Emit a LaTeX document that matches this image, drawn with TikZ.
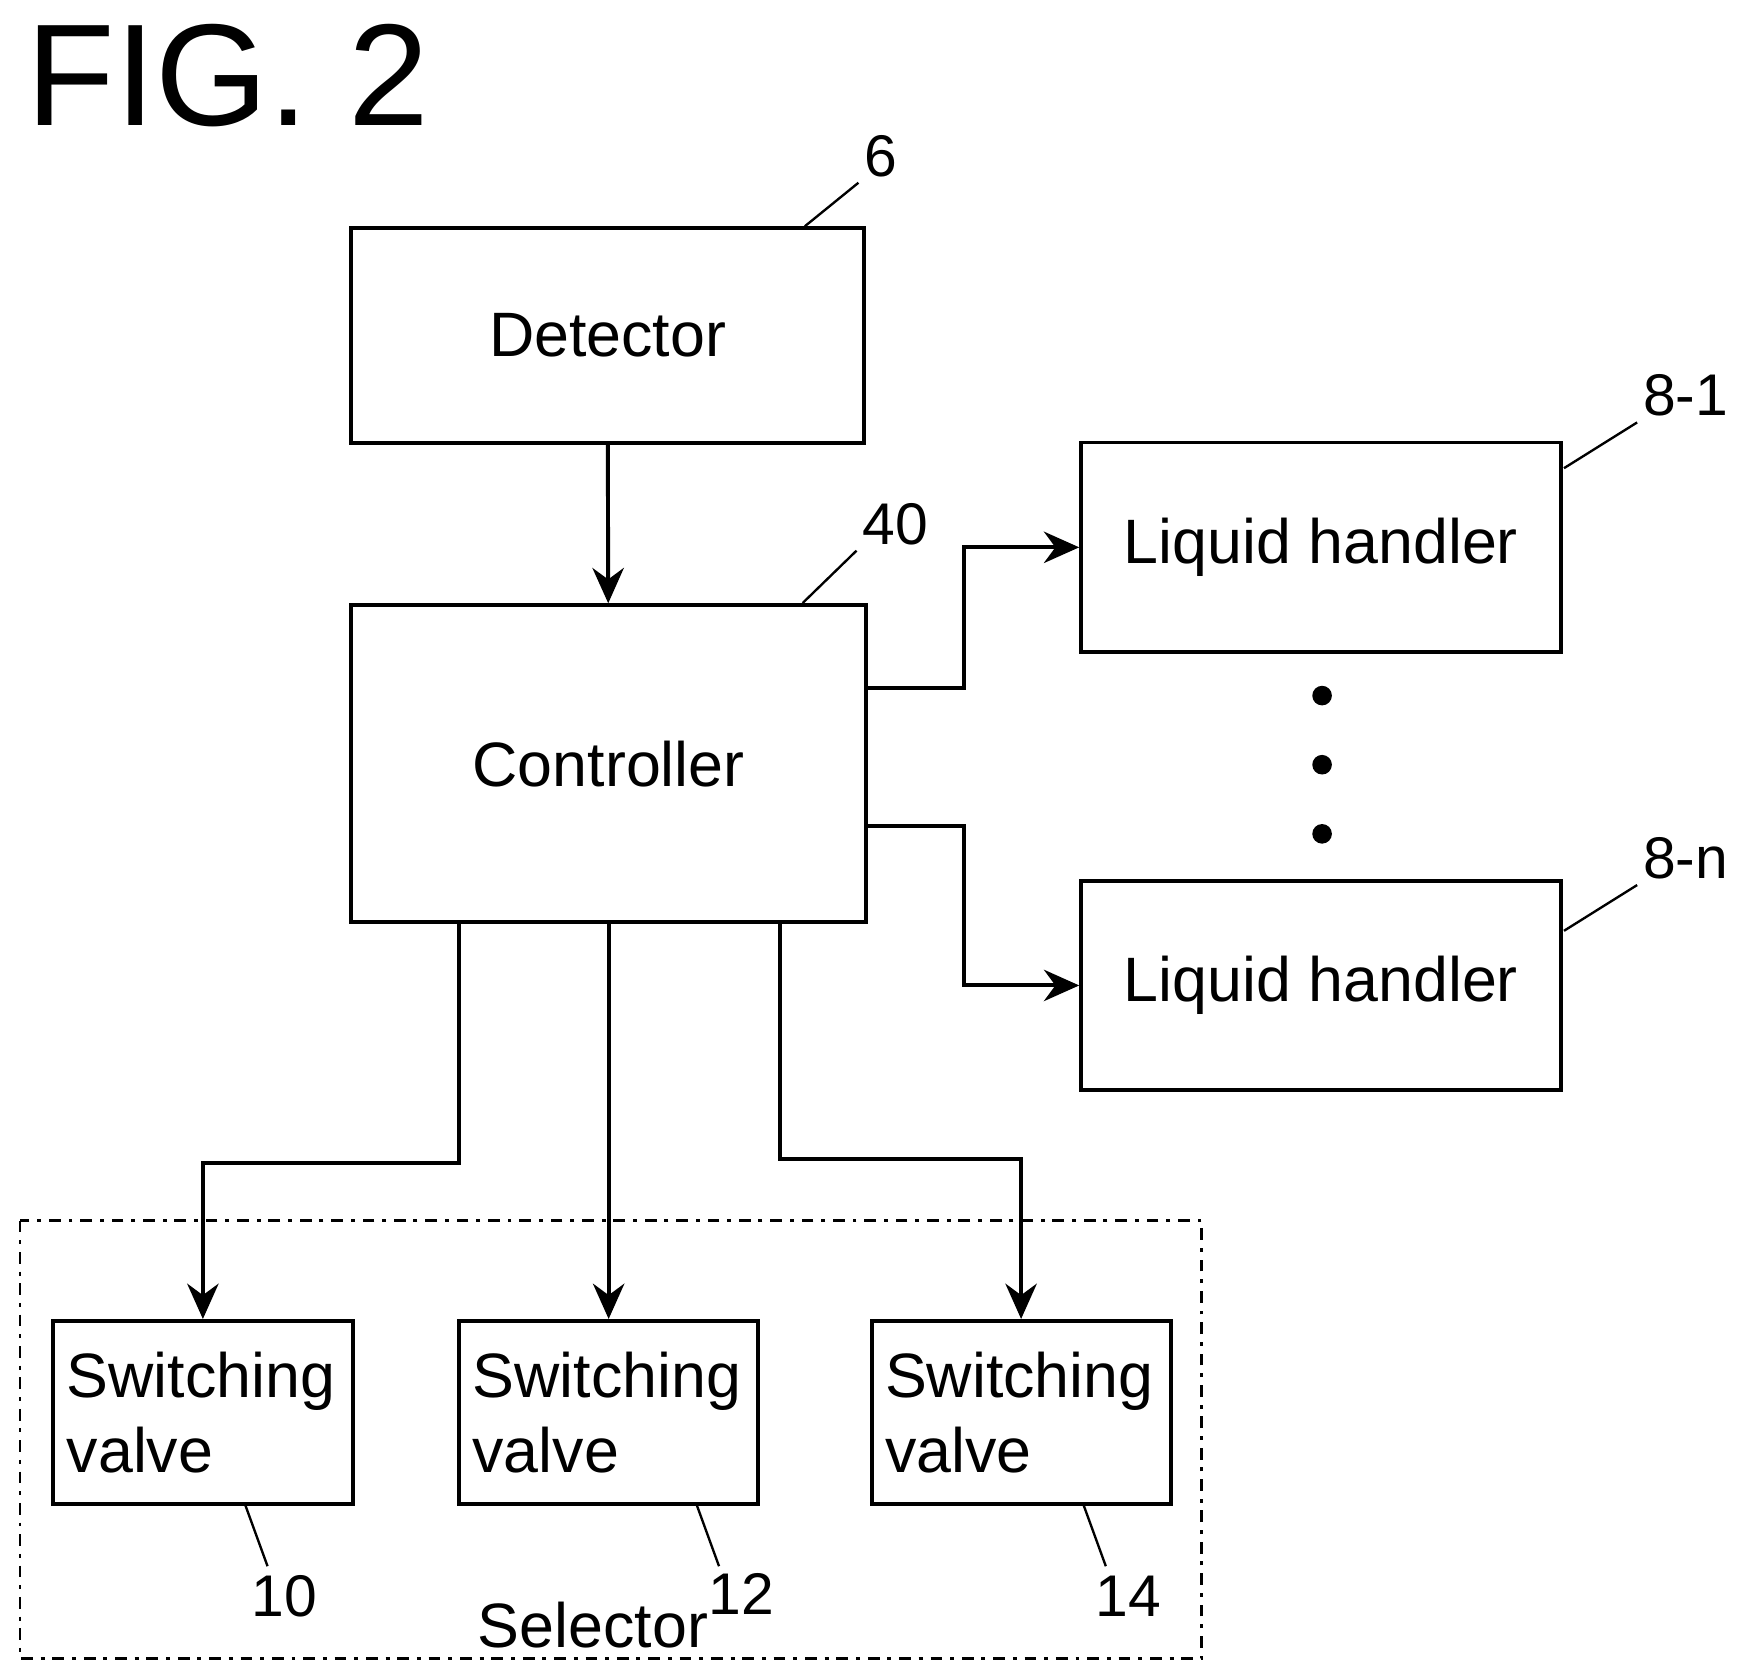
\documentclass[tikz,border=0pt]{standalone}
\usepackage{fontspec}
\setmainfont{Liberation Sans}
\usetikzlibrary{arrows.meta}
\begin{document}
\begin{tikzpicture}
[x=0.01cm,y=-0.01cm,>={Stealth[length=9pt,width=8pt]},line width=1pt,
box/.style={draw,rectangle,inner sep=0pt,font=\fontsize{16}{19}\selectfont},
num/.style={font=\fontsize{15}{18}\selectfont,inner sep=1pt},
dot/.style={circle,fill=black,inner sep=0pt,minimum size=5pt},]

\useasboundingbox (0,0) rectangle (1560,1500);

%Title
\node (title) at (22,68)[anchor=west,inner sep=0pt] {\fontsize{37}{42}\selectfont FIG. 2};

%Boxes
\node (det) at (545,301)[box,minimum width=4.6cm,minimum height=1.92cm] {Detector};
\node (ctl) at (546,685)[box,minimum width=4.62cm,minimum height=2.84cm] {Controller};
\node (lh1) at (1185,491)[box,minimum width=4.3cm,minimum height=1.88cm] {Liquid handler};
\node (lhn) at (1185,884)[box,minimum width=4.3cm,minimum height=1.88cm] {Liquid handler};
\node (sv1) at (182,1267)[box,minimum width=2.69cm,minimum height=1.64cm,align=left,text width=2.44cm] {Switching\\valve};
\node (sv2) at (546,1267)[box,minimum width=2.68cm,minimum height=1.64cm,align=left,text width=2.44cm] {Switching\\valve};
\node (sv3) at (916,1267)[box,minimum width=2.68cm,minimum height=1.64cm,align=left,text width=2.44cm] {Switching\\valve};

%Selector frame
\draw[dash dot,line width=0.7pt] (18,1095) rectangle (1078,1488);
\node (sel) at (532,1458)[box,draw=none] {Selector};

%Dots
\node (d1) at (1186,624)[dot] {};
\node (d2) at (1186,686)[dot] {};
\node (d3) at (1186,748)[dot] {};

%Connections
\draw[->] (det) -- (ctl);
\draw[->] (ctl.east |- 0,617) -- (865,617) |- (lh1.west);
\draw[->] (ctl.east |- 0,741) -- (865,741) |- (lhn.west);
\draw[->] (412,827) -- (412,1043) -| (sv1.north);
\draw[->] (ctl.south) -- (sv2.north);
\draw[->] (700,827) -- (700,1040) -| (sv3.north);

%Reference numerals
\node (n6) at (790,140)[num] {6};
\node (n40) at (803,470)[num] {40};
\node (n81) at (1512,355)[num] {8-1};
\node (n8n) at (1512,770)[num] {8-n};
\node (n10) at (255,1432)[num] {10};
\node (n12) at (665,1430)[num] {12};
\node (n14) at (1012,1432)[num] {14};
\draw[line width=0.6pt] (722,203) -- (n6.south west);
\draw[line width=0.6pt] (720,541) -- (n40.south west);
\draw[line width=0.6pt] (1403,420) -- (n81.south west);
\draw[line width=0.6pt] (1403,835) -- (n8n.south west);
\draw[line width=0.6pt] (220,1350) -- (240,1405);
\draw[line width=0.6pt] (625,1350) -- (645,1405);
\draw[line width=0.6pt] (972,1350) -- (992,1405);
\end{tikzpicture}
\end{document}
